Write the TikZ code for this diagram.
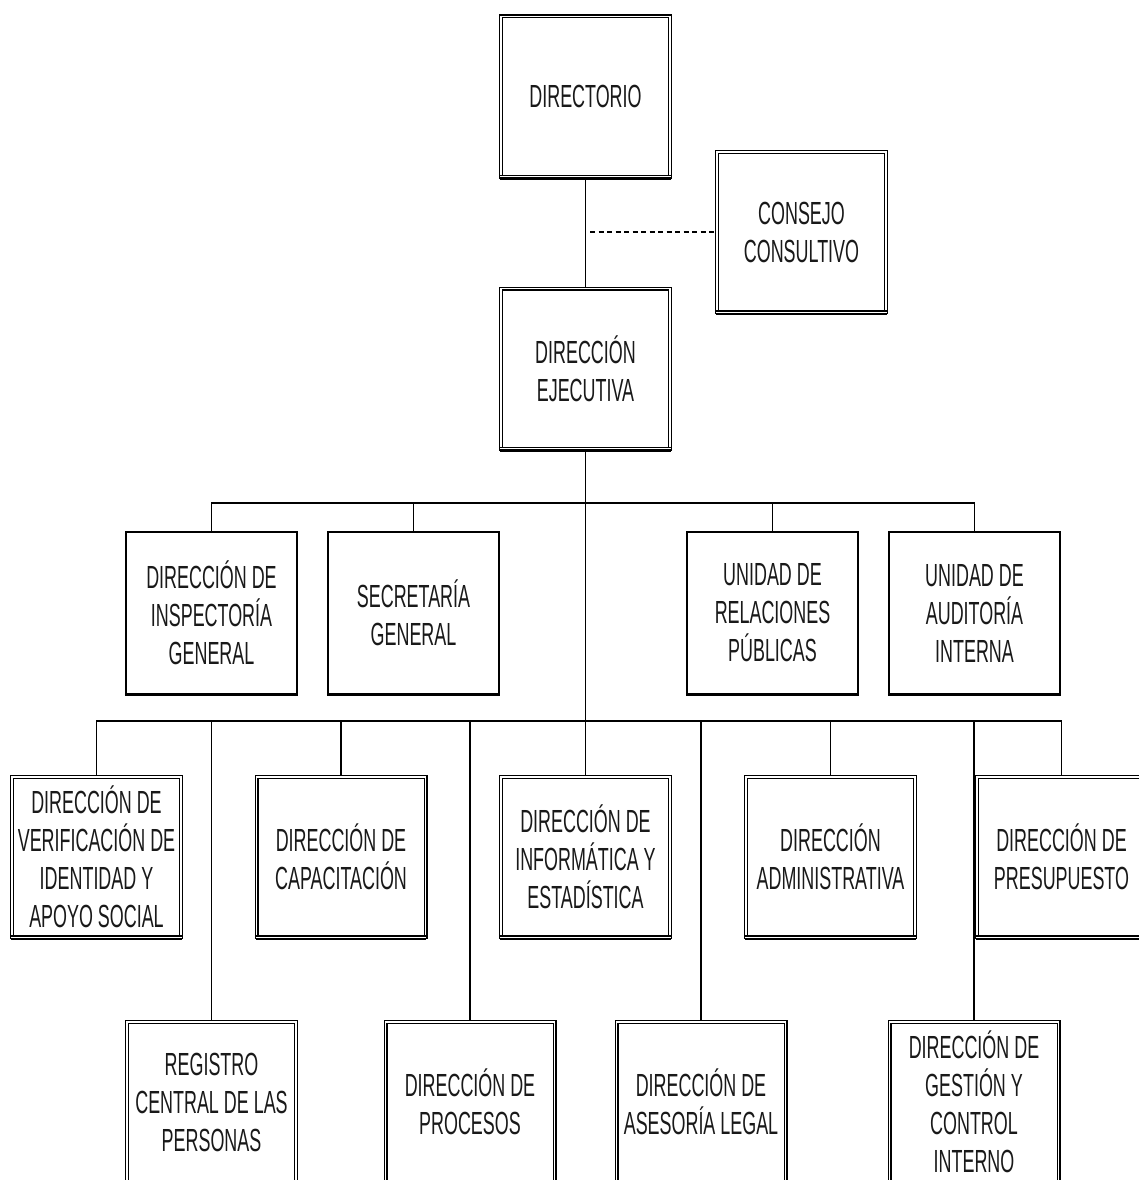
\documentclass[tikz,border=0pt]{standalone}
\usepackage{fontspec}
\setmainfont{Liberation Sans}[FakeStretch=0.56]
\usetikzlibrary{backgrounds}
\newcommand{\boxfnt}{\fontsize{32}{38}\selectfont}
\begin{document}
\begin{tikzpicture}[x=1pt,y=-1pt,
  dbox/.style={draw=black, line width=1.1pt, double=white, double distance=1.8pt, fill=white,
    minimum width=169pt, minimum height=160pt, inner sep=0pt, align=center,
    font=\boxfnt, text=black!90},
  sbox/.style={draw=black, line width=1.8pt, fill=white,
    minimum width=171.5pt, minimum height=162.5pt, inner sep=0pt, align=center,
    font=\boxfnt, text=black!90},
  link/.style={line width=1.6pt, draw=black},
  dotlink/.style={line width=2pt, draw=black, dash pattern=on 5pt off 3.5pt}]
\useasboundingbox (0,0) rectangle (1139,1180);
\clip (0,0) rectangle (1139,1180);

% top
\node[dbox] (dir)  at (585.5,96.5)  {DIRECTORIO};
\node[dbox] (cons) at (801.5,232)   {CONSEJO\\CONSULTIVO};
\node[dbox] (ejec) at (585.5,368.5) {DIRECCIÓN\\EJECUTIVA};

% row 2
\node[sbox] (insp) at (211.5,613) {DIRECCIÓN DE\\INSPECTORÍA\\GENERAL};
\node[sbox] (secr) at (413.5,613) {SECRETARÍA\\GENERAL};
\node[sbox] (rrpp) at (772.5,613) {UNIDAD DE\\RELACIONES\\PÚBLICAS};
\node[sbox] (audi) at (974.5,613) {UNIDAD DE\\AUDITORÍA\\INTERNA};

% row 3
\node[dbox] (veri) at (96.5,857)   {DIRECCIÓN DE\\VERIFICACIÓN DE\\IDENTIDAD Y\\APOYO SOCIAL};
\node[dbox] (capa) at (341,857)    {DIRECCIÓN DE\\CAPACITACIÓN};
\node[dbox] (info) at (585.5,857)  {DIRECCIÓN DE\\INFORMÁTICA Y\\ESTADÍSTICA};
\node[dbox] (admi) at (830.5,857)  {DIRECCIÓN\\ADMINISTRATIVA};
\node[dbox] (pres) at (1061.5,857) {DIRECCIÓN DE\\PRESUPUESTO};

% row 4
\node[dbox] (regi) at (211.5,1102) {REGISTRO\\CENTRAL DE LAS\\PERSONAS};
\node[dbox] (proc) at (470,1102)   {DIRECCIÓN DE\\PROCESOS};
\node[dbox] (ases) at (701,1102)   {DIRECCIÓN DE\\ASESORÍA LEGAL};
\node[dbox] (gest) at (974,1102)   {DIRECCIÓN DE\\GESTIÓN Y\\CONTROL\\INTERNO};

% thicker bottom edges
\foreach \n in {dir,cons,ejec,veri,capa,info,admi,pres,regi,proc,ases,gest}{
  \draw[line width=1.8pt] ([yshift=-1.8pt]\n.south west) -- ([yshift=-1.8pt]\n.south east);
  \draw[line width=1.5pt] ([yshift=1.6pt]\n.south west) -- ([yshift=1.6pt]\n.south east);
}
\foreach \n in {insp,secr,rrpp,audi}{
  \draw[line width=2.6pt] (\n.south west) -- (\n.south east);
}

\coordinate (bus2) at (586,503);
\coordinate (bus3) at (586,721);
\coordinate (dstart) at (590,232);

\begin{pgfonlayer}{background}
\fill[white] (0,0) rectangle (1139,1180);
\draw[link] (dir.south) -- (ejec.north);
\draw[dotlink] (dstart) -- (cons.west);
\draw[link] (ejec.south) -- (info.north);
% bus 2
\draw[link] (insp.north) -- (insp.north |- bus2) -- (audi.north |- bus2) -- (audi.north);
\draw[link] (secr.north) -- (secr.north |- bus2);
\draw[link] (rrpp.north) -- (rrpp.north |- bus2);
% bus 3
\draw[link] (veri.north) -- (veri.north |- bus3) -- (pres.north |- bus3) -- (pres.north);
\draw[link] (regi.north) -- (regi.north |- bus3);
\draw[link] (capa.north) -- (capa.north |- bus3);
\draw[link] (proc.north) -- (proc.north |- bus3);
\draw[link] (ases.north) -- (ases.north |- bus3);
\draw[link] (admi.north) -- (admi.north |- bus3);
\draw[link] (gest.north) -- (gest.north |- bus3);
\end{pgfonlayer}
\end{tikzpicture}
\end{document}
